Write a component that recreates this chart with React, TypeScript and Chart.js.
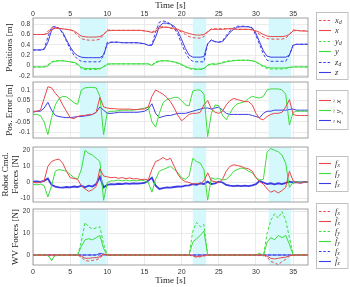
import React, { useEffect, useRef } from "react";
import { Chart, registerables } from "chart.js";

Chart.register(...registerables);

// ---------------- DATA ----------------
const T = [
  0, 0.5, 1, 1.5, 2, 2.5, 3, 3.5, 4, 4.5,
  5, 5.5, 6, 6.5, 7, 7.5, 8, 8.5, 9, 9.5,
  10, 10.5, 11, 11.5, 12, 12.5, 13, 13.5, 14, 14.5,
  15, 15.5, 16, 16.5, 17, 17.5, 18, 18.5, 19, 19.5,
  20, 20.5, 21, 21.5, 22, 22.5, 23, 23.5, 24, 24.5,
  25, 25.5, 26, 26.5, 27, 27.5, 28, 28.5, 29, 29.5,
  30, 30.5, 31, 31.5, 32, 32.5, 33, 33.5, 34, 34.5,
  35, 35.5, 36, 36.5, 37,
];
const X_TICKS = [0, 5, 10, 15, 20, 25, 30, 35];
const SHADED = [[6.3, 9.9], [21.5, 23.3], [31.7, 34.7]];

// Panel 1: positions [m]
const X_DES = [
  0.60, 0.60, 0.60, 0.60, 0.66, 0.73, 0.74, 0.72, 0.71, 0.70,
  0.69, 0.66, 0.58, 0.52, 0.50, 0.49, 0.49, 0.49, 0.51, 0.60,
  0.69, 0.68, 0.68, 0.68, 0.68, 0.68, 0.68, 0.68, 0.68, 0.68,
  0.67, 0.66, 0.64, 0.70, 0.75, 0.75, 0.74, 0.72, 0.70, 0.68,
  0.65, 0.60, 0.56, 0.54, 0.53, 0.53, 0.56, 0.66, 0.71, 0.71,
  0.71, 0.71, 0.71, 0.71, 0.71, 0.70, 0.70, 0.70, 0.70, 0.69,
  0.65, 0.60, 0.55, 0.52, 0.51, 0.51, 0.51, 0.51, 0.53, 0.60,
  0.69, 0.68, 0.67, 0.67, 0.67,
];
const X_ACT = [
  0.60, 0.60, 0.60, 0.60, 0.62, 0.70, 0.72, 0.72, 0.71, 0.70,
  0.69, 0.67, 0.62, 0.57, 0.555, 0.55, 0.55, 0.55, 0.56, 0.60,
  0.67, 0.68, 0.68, 0.68, 0.68, 0.68, 0.68, 0.68, 0.68, 0.68,
  0.67, 0.66, 0.64, 0.66, 0.72, 0.74, 0.74, 0.73, 0.72, 0.70,
  0.67, 0.64, 0.62, 0.60, 0.59, 0.59, 0.60, 0.65, 0.70, 0.70,
  0.70, 0.70, 0.71, 0.71, 0.71, 0.70, 0.70, 0.70, 0.70, 0.69,
  0.67, 0.64, 0.60, 0.57, 0.56, 0.56, 0.56, 0.56, 0.57, 0.60,
  0.67, 0.68, 0.67, 0.67, 0.66,
];
const Y_DES = [
  -0.03, -0.03, -0.03, -0.03, 0.01, 0.07, 0.09, 0.09, 0.09, 0.08,
  0.07, 0.05, 0.01, -0.06, -0.08, -0.08, -0.08, -0.08, -0.07, -0.02,
  0.03, 0.03, 0.03, 0.03, 0.03, 0.03, 0.03, 0.03, 0.03, 0.03,
  0.03, 0.03, 0.01, 0.07, 0.09, 0.09, 0.09, 0.08, 0.06, 0.04,
  0.01, -0.03, -0.06, -0.08, -0.08, -0.08, -0.07, 0.01, 0.03, 0.03,
  0.04, 0.06, 0.08, 0.09, 0.10, 0.10, 0.10, 0.10, 0.10, 0.09,
  0.06, 0.02, -0.03, -0.06, -0.07, -0.07, -0.07, -0.07, -0.06, -0.04,
  -0.03, -0.03, -0.03, -0.03, -0.03,
];
const Y_ACT = [
  -0.03, -0.03, -0.03, -0.03, -0.01, 0.06, 0.08, 0.09, 0.09, 0.08,
  0.07, 0.06, 0.03, -0.04, -0.06, -0.06, -0.06, -0.06, -0.06, -0.03,
  0.02, 0.03, 0.03, 0.03, 0.03, 0.03, 0.03, 0.03, 0.03, 0.03,
  0.03, 0.03, 0.00, 0.05, 0.08, 0.09, 0.09, 0.08, 0.07, 0.05,
  0.02, -0.02, -0.05, -0.06, -0.07, -0.07, -0.06, 0.00, 0.03, 0.02,
  0.03, 0.05, 0.07, 0.08, 0.09, 0.10, 0.10, 0.10, 0.10, 0.09,
  0.07, 0.03, -0.01, -0.04, -0.05, -0.05, -0.05, -0.05, -0.05, -0.04,
  -0.03, -0.03, -0.03, -0.03, -0.03,
];
const Z_DES = [
  0.30, 0.30, 0.30, 0.32, 0.55, 0.74, 0.76, 0.72, 0.62, 0.47,
  0.32, 0.20, 0.12, 0.08, 0.07, 0.07, 0.07, 0.07, 0.07, 0.20,
  0.45, 0.45, 0.45, 0.45, 0.44, 0.44, 0.44, 0.44, 0.44, 0.43,
  0.42, 0.39, 0.40, 0.65, 0.84, 0.86, 0.85, 0.80, 0.72, 0.60,
  0.42, 0.25, 0.13, 0.08, 0.07, 0.07, 0.07, 0.42, 0.50, 0.46,
  0.45, 0.48, 0.58, 0.67, 0.73, 0.76, 0.76, 0.76, 0.75, 0.72,
  0.58, 0.40, 0.22, 0.10, 0.08, 0.08, 0.08, 0.08, 0.08, 0.20,
  0.40, 0.41, 0.41, 0.41, 0.41,
];
const Z_ACT = [
  0.30, 0.30, 0.30, 0.31, 0.45, 0.68, 0.74, 0.72, 0.64, 0.50,
  0.36, 0.25, 0.19, 0.16, 0.15, 0.15, 0.15, 0.15, 0.15, 0.20,
  0.42, 0.45, 0.45, 0.45, 0.44, 0.44, 0.44, 0.44, 0.44, 0.43,
  0.42, 0.39, 0.39, 0.55, 0.76, 0.82, 0.82, 0.80, 0.76, 0.66,
  0.50, 0.33, 0.20, 0.16, 0.16, 0.16, 0.17, 0.42, 0.49, 0.46,
  0.45, 0.46, 0.55, 0.64, 0.70, 0.74, 0.75, 0.75, 0.75, 0.73,
  0.62, 0.45, 0.28, 0.18, 0.16, 0.16, 0.16, 0.16, 0.16, 0.20,
  0.39, 0.41, 0.41, 0.41, 0.41,
];

// Panel 2: position error [m]
const EX = [
  0.000, 0.000, 0.005, 0.060, 0.115, 0.110, 0.085, 0.065, 0.030, 0.000,
  -0.030, -0.035, -0.025, -0.020, -0.020, -0.015, -0.015, -0.005, 0.065, 0.020,
  0.015, 0.012, 0.012, 0.010, 0.010, 0.010, 0.010, 0.008, 0.008, 0.010,
  0.010, 0.020, 0.070, 0.100, 0.090, 0.080, 0.065, 0.045, 0.015, -0.020,
  -0.045, -0.030, -0.015, -0.010, -0.010, -0.005, 0.030, 0.050, 0.010, -0.005,
  -0.010, 0.000, 0.030, 0.050, 0.060, 0.055, 0.050, 0.045, 0.045, 0.030,
  -0.010, -0.035, -0.040, -0.025, -0.015, -0.010, -0.010, -0.005, 0.020, 0.055,
  -0.015, -0.020, -0.020, -0.020, -0.020,
];
const EY = [
  -0.015, -0.015, -0.020, -0.050, -0.110, -0.030, 0.030, 0.060, 0.070, 0.068,
  0.055, 0.040, 0.032, 0.100, 0.110, 0.112, 0.112, 0.110, 0.070, -0.110,
  -0.005, 0.000, 0.000, 0.003, 0.005, 0.005, 0.005, 0.005, 0.008, 0.010,
  0.015, 0.020, -0.050, -0.075, -0.010, 0.040, 0.055, 0.060, 0.065, 0.065,
  0.050, 0.030, 0.025, 0.095, 0.100, 0.100, 0.080, -0.120, -0.010, 0.030,
  0.025, -0.020, -0.040, -0.010, 0.020, 0.035, 0.040, 0.045, 0.060, 0.070,
  0.065, 0.062, 0.070, 0.100, 0.105, 0.105, 0.105, 0.100, 0.080, -0.065,
  -0.005, 0.000, 0.000, 0.000, 0.000,
];
const EZ = [
  -0.005, 0.000, 0.000, 0.015, 0.042, 0.005, -0.020, -0.025, -0.028, -0.030,
  -0.030, -0.028, -0.025, -0.025, -0.022, -0.020, -0.015, -0.005, 0.020, 0.005,
  -0.010, -0.010, -0.008, -0.005, -0.005, -0.005, -0.005, -0.005, -0.005, -0.003,
  0.000, 0.010, 0.035, -0.010, -0.030, -0.025, -0.020, -0.020, -0.015, -0.010,
  -0.010, -0.010, -0.005, 0.000, 0.005, 0.010, 0.015, 0.015, 0.010, 0.015,
  0.020, 0.005, -0.010, -0.015, -0.015, -0.015, -0.015, -0.015, -0.015, -0.020,
  -0.025, -0.030, -0.010, 0.000, 0.000, 0.005, 0.005, 0.005, 0.005, 0.008,
  0.010, 0.005, 0.005, 0.005, 0.005,
];

// Panel 3: robot commanded forces [N]
const FX = [
  0.2, -0.3, 0.3, 1.0, 10.0, 13.0, 14.0, 14.5, 12.0, 7.0,
  3.0, 2.5, 2.0, -2.0, -4.0, -5.5, -4.5, -2.5, 8.5, 4.0,
  3.5, 3.0, 3.2, 2.6, 3.0, 2.4, 2.8, 2.2, 2.4, 1.8,
  2.0, 1.5, 8.0, 13.0, 14.0, 15.5, 14.0, 15.0, 10.0, 5.0,
  2.0, 0.5, 0.0, -1.0, -0.5, -1.0, 1.0, 6.0, 1.0, 0.5,
  0.0, 2.0, 7.0, 10.0, 11.0, 10.5, 10.0, 9.0, 8.5, 7.0,
  3.0, 0.5, -1.0, -4.0, -6.0, -5.0, -6.5, -5.0, -3.0, 7.0,
  1.0, 0.0, -0.5, 0.3, 0.0,
];
const FY = [
  -1.0, -1.5, -1.0, -2.0, -9.0, -2.0, 7.0, 8.0, 7.5, 7.0,
  5.0, 3.0, 2.0, 8.0, 20.0, 18.0, 17.0, 15.0, 13.0, -11.0,
  0.0, 1.0, 1.0, 1.5, 1.0, 1.5, 1.0, 1.2, 1.0, 1.5,
  1.0, 0.0, -6.0, 2.0, 7.0, 8.0, 9.0, 10.0, 8.0, 6.0,
  3.0, 2.0, 4.0, 15.0, 13.0, 12.0, 8.0, -11.0, 3.0, 2.0,
  2.5, 1.5, 2.0, 4.0, 7.0, 8.0, 9.0, 8.5, 7.0, 6.0,
  3.0, 1.5, 2.0, 19.0, 21.0, 20.0, 19.0, 17.0, 12.0, -3.0,
  0.0, 0.5, 0.0, 0.3, 0.0,
];
const FZ = [
  0.5, 0.6, 0.4, 1.0, 2.5, -1.5, -2.5, -3.0, -3.2, -2.8,
  -3.0, -2.5, -2.8, -2.0, -3.0, -2.0, -2.5, -1.0, 3.5, -3.0,
  -1.5, -1.0, -1.2, -0.8, -1.0, -0.6, -0.8, -0.5, -0.7, -0.5,
  -0.3, 1.0, 3.0, -2.0, -4.0, -3.5, -3.0, -3.2, -2.8, -2.5,
  -2.6, -2.0, -1.8, -1.0, -1.5, -0.5, -1.0, 0.5, -1.0, -0.5,
  0.5, 0.0, -1.5, -2.0, -2.2, -2.0, -2.3, -2.0, -2.2, -1.8,
  -1.0, 1.0, 0.0, -1.0, -0.5, -1.2, -0.5, -1.0, -0.3, 0.5,
  0.0, 0.2, 0.0, 0.3, 0.2,
];

// Panel 4: WV forces [N]
const WFX_D = [
  0, 0, 0, 0, 0, 0, 0, 0, 0, 0,
  0, 0, 0, -1.0, -2.5, -2.8, -2.5, -2.2, -1.5, 0.3,
  0, 0, 0, 0, 0, 0, 0, 0, 0, 0,
  0, 0, 0, 0, 0, 0, 0, 0, 0, 0,
  0, 0, 0, -0.5, -1.0, -0.8, -0.5, 0, 0, 0,
  0, 0, 0, 0, 0, 0, 0, 0, 0, 0,
  0, 0, 0, -1.0, -3.0, -3.5, -4.5, -3.0, -2.0, -0.5,
  0, 0, 0, 0, 0,
];
const WFX = [
  0, 0, 0, 0, 0, 0, 0, 0, 0, 0,
  0, 0, 0, -0.5, -1.5, -1.5, -1.3, -1.2, -0.8, 0.5,
  0, 0, 0, 0, 0, 0, 0, 0, 0, 0,
  0, 0, 0, 0, 0, 0, 0, 0, 0, 0,
  0, 0, 0, -0.3, -0.8, -0.5, -0.3, 0, 0, 0,
  0, 0, 0, 0, 0, 0, 0, 0, 0, 0,
  0, 0, 0, -0.5, -1.5, -1.8, -1.5, -1.2, -1.0, -0.3,
  0, 0, 0, 0, 0,
];
const WFY_D = [
  0, 0, 0, 0, 0, -2.5, 0, 0, 0, 0,
  0, 0, 0, 6.0, 15.0, 13.0, 12.0, 12.5, 13.0, 5.0,
  0, 0, 0, 0, 0, 0, 0, 0, 0, 0,
  0, 0, 0, 0, 0, 0, 0, 0, 0, 0,
  0, 0, 0, 11.0, 15.0, 13.0, 14.0, 0, 0, 0,
  0, 0, 0, 0, 0, 0, 0, 0, 0, 0,
  0, 0.5, -0.5, 10.0, 16.0, 19.0, 17.0, 20.0, 16.0, 8.0,
  0, 0, 0, 0, 0,
];
const WFY = [
  0, 0, 0, 0, 0, -2.5, 0, 0, 0, 0,
  0, 0, 0, 4.0, 7.0, 7.5, 7.0, 8.0, 9.0, 3.0,
  -0.3, 0, 0, 0, 0, 0, 0, 0, 0, 0,
  0, 0, 0, 0, 0, 0, 0, 0, 0, 0,
  0, 0, 0, 6.0, 7.5, 9.0, 11.0, 0, 0, 0,
  0, 0, 0, 0, 0, 0, 0, 0, 0, 0,
  0, 0.8, -0.5, 6.0, 8.0, 7.0, 9.0, 8.0, 9.0, 5.0,
  0, 0, 0, 0, 0,
];
const WFZ_D = [
  0, 0, 0, 0, 0, 0, 0, 0, 0, 0,
  0, 0, 0, 0, 0, 0, 0, 0, 0, 0,
  0, 0, 0, 0, 0, 0, 0, 0, 0, 0,
  0, 0, 0, 0, 0, 0, 0, 0, 0, 0,
  0, 0, 0, 0, 0, 0, 0, 0, 0, 0,
  0, 0, 0, 0, 0, 0, 0, 0, 0, 0,
  0, 0, 0, 0, 0, 0, 0, 0, 0, 0,
  0, 0, 0, 0, 0,
];
const WFZ = [
  0, 0, 0, 0, 0, 0, 0, 0, 0, 0,
  0, 0, 0, 0, 0, 0, 0, 0, 0.8, 0.3,
  0, 0, 0, 0, 0, 0, 0, 0, 0, 0,
  0, 0, 0, 0, 0, 0, 0, 0, 0, 0,
  0, 0, 0, 0, 0, 0, 0, 0, 0, 0,
  0, 0, 0, 0, 0, 0, 0, 0, 0, 0,
  0, 0, 0, 0, 0, 0, 0, 0, 0, 0,
  0, 0, 0, 0, 0,
];

const Y1_TICKS = [-0.2, 0, 0.2, 0.4, 0.6, 0.8];
const Y2_TICKS = [-0.1, -0.05, 0, 0.05, 0.1];
const Y3_TICKS = [-10, 0, 10, 20];
const Y4_TICKS = [0, 10, 20];

// ---------------- STYLE ----------------
const RED = "#e8474a";
const GREEN = "#3ade3a";
const BLUE = "#3c3ce4";
const W = 350;
const H = 287;
const PLOT_LEFT = 33;
const PLOT_RIGHT = 308;
const SERIF = '"Liberation Serif", "DejaVu Serif", serif';
const SANS = '"Liberation Sans", Arial, sans-serif';

type LegendItem = { color: string; dash: boolean; base: string; sub?: string; mark?: "tilde" | "bar" };
type LegendSpec = { top: number; bottom: number; rows: number[]; items: LegendItem[]; rotate?: boolean };

function drawMath(ctx: CanvasRenderingContext2D, x: number, y: number, it: LegendItem) {
  ctx.fillStyle = "#333";
  ctx.textAlign = "left";
  ctx.textBaseline = "middle";
  ctx.font = `italic 8.5px ${SERIF}`;
  ctx.fillText(it.base, x, y);
  const w = ctx.measureText(it.base).width;
  if (it.mark === "tilde") {
    ctx.font = `6px ${SERIF}`;
    ctx.textAlign = "center";
    ctx.fillText("~", x + w / 2 + 0.5, y - 4.5);
    ctx.textAlign = "left";
  } else if (it.mark === "bar") {
    ctx.save();
    ctx.beginPath();
    ctx.strokeStyle = "#333";
    ctx.lineWidth = 0.6;
    ctx.moveTo(x + 0.8, y - 4.2);
    ctx.lineTo(x + w + 0.5, y - 4.2);
    ctx.stroke();
    ctx.restore();
  }
  if (it.sub) {
    ctx.font = `italic 5.5px ${SERIF}`;
    ctx.fillText(it.sub, x + w + 0.2, y + 2.5);
  }
}

function legendPlugin(spec: LegendSpec) {
  return {
    id: "panelLegend",
    afterDraw(chart: any) {
      const ctx: CanvasRenderingContext2D = chart.ctx;
      ctx.save();
      ctx.fillStyle = "#fff";
      ctx.fillRect(316.5, spec.top + 0.5, 31.5, spec.bottom - spec.top);
      ctx.strokeStyle = "#b4b4b4";
      ctx.lineWidth = 0.8;
      ctx.strokeRect(316.5, spec.top + 0.5, 31.5, spec.bottom - spec.top);
      spec.items.forEach((it, i) => {
        const y = spec.rows[i];
        ctx.save();
        ctx.beginPath();
        ctx.strokeStyle = it.color;
        ctx.lineWidth = 1.1;
        ctx.setLineDash(it.dash ? [2.5, 1.8] : []);
        ctx.moveTo(319, y);
        ctx.lineTo(331, y);
        ctx.stroke();
        ctx.restore();
        if (spec.rotate) {
          ctx.save();
          ctx.translate(339, y + 3);
          ctx.rotate(-Math.PI / 2);
          drawMath(ctx, 0, 0, it);
          ctx.restore();
        } else {
          drawMath(ctx, 335, y, it);
        }
      });
      ctx.restore();
    },
  };
}

const shadePlugin = {
  id: "shade",
  beforeDatasetsDraw(chart: any) {
    const { ctx, chartArea } = chart;
    const xs = chart.scales.x;
    ctx.save();
    ctx.fillStyle = "#d4f8fc";
    SHADED.forEach(([a, b]) => {
      const x0 = xs.getPixelForValue(a);
      const x1 = xs.getPixelForValue(b);
      ctx.fillRect(x0, chartArea.top, x1 - x0, chartArea.bottom - chartArea.top);
    });
    ctx.restore();
  },
  afterDatasetsDraw(chart: any) {
    const { ctx, chartArea } = chart;
    ctx.save();
    ctx.strokeStyle = "#8a8a8a";
    ctx.lineWidth = 0.8;
    ctx.strokeRect(chartArea.left, chartArea.top, chartArea.right - chartArea.left, chartArea.bottom - chartArea.top);
    ctx.restore();
  },
};

function series(vals: number[], color: string, dash: boolean, width = 1) {
  return {
    data: T.map((t, i) => ({ x: t, y: vals[i] })),
    borderColor: color,
    borderWidth: width,
    borderDash: dash ? [3, 2] : [],
    pointRadius: 0,
    fill: false,
    tension: 0,
  };
}

const fmt = (v: number) => String(Math.round(v * 1000) / 1000);

type Panel = {
  top: number;
  bottom: number;
  yMin: number;
  yMax: number;
  yTicks: number[];
  title: string | string[];
  titlePad: number;
  xMode: "top" | "none" | "bottom";
  datasets: any[];
  legend: LegendSpec;
};

const PANELS: Panel[] = [
  {
    top: 18, bottom: 77, yMin: -0.225, yMax: 0.92, yTicks: Y1_TICKS,
    title: "Positions [m]", titlePad: 5, xMode: "top",
    datasets: [
      series(X_DES, RED, true), series(X_ACT, RED, false),
      series(Y_DES, GREEN, true), series(Y_ACT, GREEN, false),
      series(Z_DES, BLUE, true), series(Z_ACT, BLUE, false),
    ],
    legend: {
      top: 12, bottom: 79, rows: [20.5, 30.5, 41.5, 51.5, 62.5, 72.5],
      items: [
        { color: RED, dash: true, base: "x", sub: "d" },
        { color: RED, dash: false, base: "x" },
        { color: GREEN, dash: true, base: "y", sub: "d" },
        { color: GREEN, dash: false, base: "y" },
        { color: BLUE, dash: true, base: "z", sub: "d" },
        { color: BLUE, dash: false, base: "z" },
      ],
    },
  },
  {
    top: 82, bottom: 138, yMin: -0.126, yMax: 0.1375, yTicks: Y2_TICKS,
    title: "Pos. Error [m]", titlePad: 5, xMode: "none",
    datasets: [series(EX, RED, false), series(EY, GREEN, false), series(EZ, BLUE, false)],
    legend: {
      top: 90, bottom: 129, rows: [100.5, 110.5, 120.5], rotate: true,
      items: [
        { color: RED, dash: false, base: "x", mark: "tilde" },
        { color: GREEN, dash: false, base: "y", mark: "tilde" },
        { color: BLUE, dash: false, base: "z", mark: "tilde" },
      ],
    },
  },
  {
    top: 147, bottom: 202, yMin: -12.1, yMax: 22, yTicks: Y3_TICKS,
    title: ["Robot Cmd.", "Forces [N]"], titlePad: 1, xMode: "none",
    datasets: [series(FX, RED, false), series(FY, GREEN, false), series(FZ, BLUE, false, 1.8)],
    legend: {
      top: 156, bottom: 191, rows: [163.5, 173.5, 183.5],
      items: [
        { color: RED, dash: false, base: "f", sub: "x" },
        { color: GREEN, dash: false, base: "f", sub: "y" },
        { color: BLUE, dash: false, base: "f", sub: "z" },
      ],
    },
  },
  {
    top: 209, bottom: 265, yMin: -4.6, yMax: 21.2, yTicks: Y4_TICKS,
    title: "WV Forces [N]", titlePad: 11, xMode: "bottom",
    datasets: [
      series(WFX_D, RED, true), series(WFX, RED, false),
      series(WFY_D, GREEN, true), series(WFY, GREEN, false),
      series(WFZ_D, BLUE, true), series(WFZ, BLUE, false),
    ],
    legend: {
      top: 203, bottom: 268, rows: [211.5, 221.5, 231.5, 241.5, 251.5, 261.5],
      items: [
        { color: RED, dash: true, base: "f", sub: "x" },
        { color: RED, dash: false, base: "f", sub: "x", mark: "bar" },
        { color: GREEN, dash: true, base: "f", sub: "y" },
        { color: GREEN, dash: false, base: "f", sub: "y", mark: "bar" },
        { color: BLUE, dash: true, base: "f", sub: "z" },
        { color: BLUE, dash: false, base: "f", sub: "z", mark: "bar" },
      ],
    },
  },
];

function buildConfig(p: Panel): any {
  const xHeight = p.xMode === "top" ? p.top : p.xMode === "bottom" ? H - p.bottom : 0;
  const padTop = p.xMode === "top" ? 0 : p.top;
  const padBottom = p.xMode === "bottom" ? 0 : H - p.bottom;
  const showX = p.xMode !== "none";
  return {
    type: "line",
    data: { datasets: p.datasets },
    options: {
      responsive: false,
      animation: false,
      devicePixelRatio: 1,
      layout: { padding: { left: 0, right: W - PLOT_RIGHT, top: padTop, bottom: padBottom } },
      plugins: { legend: { display: false }, tooltip: { enabled: false } },
      elements: { point: { radius: 0 }, line: { tension: 0 } },
      scales: {
        x: {
          type: "linear",
          position: p.xMode === "top" ? "top" : "bottom",
          min: 0,
          max: 37,
          afterBuildTicks: (s: any) => {
            s.ticks = X_TICKS.map((v) => ({ value: v }));
          },
          afterFit: (s: any) => {
            s.height = xHeight;
          },
          grid: { color: "#e6e6e6", lineWidth: 0.8, drawTicks: false },
          border: { display: false },
          ticks: {
            display: showX,
            padding: p.xMode === "top" ? 0 : 2.5,
            autoSkip: false,
            maxRotation: 0,
            color: "#333",
            font: { family: SANS, size: 7 },
            callback: (v: number) => fmt(v),
          },
          title: {
            display: showX,
            text: "Time [s]",
            color: "#222",
            font: { family: SERIF, size: 9 },
            padding: { top: 0.6, bottom: 0.6 },
          },
        },
        y: {
          type: "linear",
          min: p.yMin,
          max: p.yMax,
          afterBuildTicks: (s: any) => {
            s.ticks = p.yTicks.map((v) => ({ value: v }));
          },
          afterFit: (s: any) => {
            s.width = PLOT_LEFT;
          },
          grid: { color: "#e6e6e6", lineWidth: 0.8, drawTicks: false },
          border: { display: false },
          ticks: {
            padding: 3,
            color: "#333",
            font: { family: SANS, size: 6.5 },
            callback: (v: number) => fmt(v),
          },
          title: {
            display: true,
            text: p.title,
            color: "#222",
            font: { family: SERIF, size: 9, lineHeight: 1.1 },
            padding: { top: p.titlePad, bottom: 0 },
          },
        },
      },
    },
    plugins: [shadePlugin, legendPlugin(p.legend)],
  };
}

export default function App() {
  const refs = useRef<(HTMLCanvasElement | null)[]>([]);
  useEffect(() => {
    const charts = PANELS.map((p, i) => new Chart(refs.current[i] as HTMLCanvasElement, buildConfig(p)));
    return () => charts.forEach((c) => c.destroy());
  }, []);
  return (
    <div style={{ position: "fixed", left: 0, top: 0, width: W, height: H, background: "#fff" }}>
      {PANELS.map((_, i) => (
        <canvas
          key={i}
          ref={(el) => {
            refs.current[i] = el;
          }}
          width={W}
          height={H}
          style={{ position: "absolute", left: 0, top: 0, width: W, height: H }}
        />
      ))}
    </div>
  );
}
